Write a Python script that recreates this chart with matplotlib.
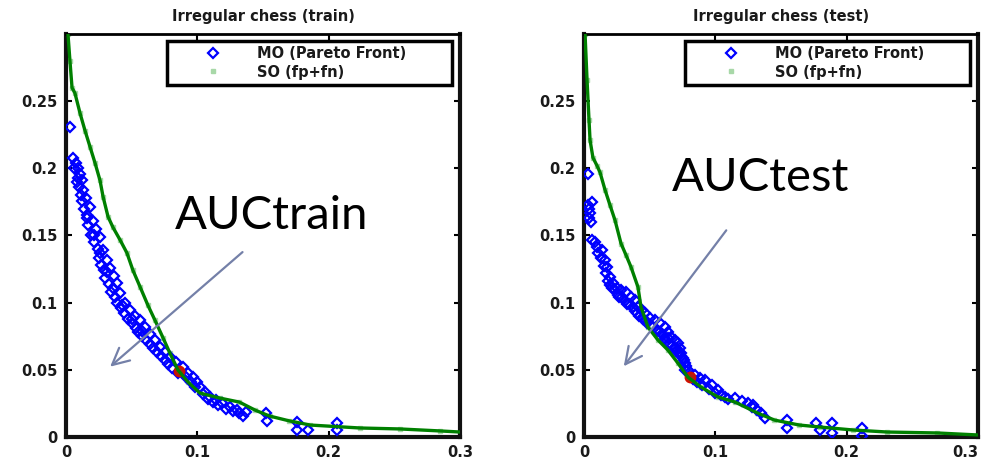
import matplotlib.pyplot as plt

# Pareto front (MO) and single objective sweep (SO), error rates fp vs fn
train_mo_x = [0.003, 0.0053, 0.0076, 0.0091, 0.0107, 0.0122, 0.0129, 0.0152, 0.0183, 0.0205,
              0.0228, 0.0259, 0.0282, 0.0312, 0.0335, 0.0365, 0.0388, 0.041, 0.0449, 0.0487,
              0.0525, 0.0563, 0.0601, 0.0639, 0.0677, 0.0715, 0.0753, 0.0791, 0.0837, 0.089,
              0.0928, 0.0966, 0.0997, 0.102, 0.106, 0.110, 0.114, 0.119, 0.125, 0.130,
              0.132, 0.137, 0.152, 0.153, 0.176, 0.176, 0.184, 0.206, 0.206,
              0.008, 0.0115, 0.016, 0.021, 0.026, 0.031, 0.036, 0.043, 0.050, 0.058,
              0.006, 0.009, 0.010, 0.012, 0.014, 0.016, 0.017, 0.019, 0.021, 0.024,
              0.025, 0.027, 0.029, 0.030, 0.033, 0.034, 0.037, 0.039, 0.042, 0.044,
              0.047, 0.050, 0.053, 0.055, 0.058, 0.061, 0.064, 0.066, 0.069, 0.072,
              0.075, 0.078, 0.081, 0.085, 0.091, 0.095, 0.098, 0.104, 0.108, 0.112,
              0.116, 0.122, 0.127, 0.135]
train_mo_y = [0.231, 0.2075, 0.204, 0.200, 0.196, 0.191, 0.184, 0.178, 0.171, 0.161,
              0.155, 0.149, 0.139, 0.132, 0.126, 0.120, 0.115, 0.107, 0.100, 0.0945,
              0.090, 0.087, 0.082, 0.077, 0.072, 0.067, 0.063, 0.0595, 0.056, 0.052,
              0.048, 0.0446, 0.041, 0.037, 0.0335, 0.030, 0.0275, 0.0253, 0.0223, 0.020,
              0.0179, 0.0186, 0.0179, 0.0119, 0.0112, 0.0052, 0.0052, 0.0104, 0.0052,
              0.190, 0.180, 0.165, 0.150, 0.137, 0.123, 0.111, 0.098, 0.088, 0.079,
              0.200, 0.193, 0.186, 0.176, 0.170, 0.163, 0.158, 0.150, 0.145, 0.140,
              0.133, 0.128, 0.124, 0.118, 0.114, 0.108, 0.104, 0.100, 0.096, 0.092,
              0.088, 0.085, 0.081, 0.078, 0.075, 0.072, 0.069, 0.066, 0.063, 0.060,
              0.057, 0.054, 0.051, 0.048, 0.045, 0.041, 0.037, 0.032, 0.028, 0.026,
              0.024, 0.021, 0.019, 0.016]

train_so_x = [0.0015, 0.003, 0.0046, 0.0068, 0.0107, 0.0145, 0.0183, 0.0221, 0.0259, 0.0282,
              0.032, 0.0358, 0.041, 0.0464, 0.051, 0.0563, 0.0624, 0.0677, 0.0738, 0.0791,
              0.0852, 0.0928, 0.102, 0.117, 0.132, 0.144, 0.155, 0.170, 0.186, 0.224,
              0.254, 0.285, 0.300]
train_so_y = [0.300, 0.280, 0.260, 0.256, 0.241, 0.228, 0.216, 0.204, 0.191, 0.179,
              0.164, 0.156, 0.147, 0.137, 0.124, 0.112, 0.098, 0.087, 0.074, 0.0625,
              0.050, 0.041, 0.0327, 0.029, 0.026, 0.020, 0.0156, 0.012, 0.0089, 0.0067,
              0.006, 0.0045, 0.0037]

test_mo_x = [0.003, 0.003, 0.0046, 0.0038, 0.0061, 0.0099, 0.0137, 0.016, 0.0175, 0.0198,
             0.0221, 0.0251, 0.0282, 0.032, 0.0358, 0.0388, 0.0411, 0.0441, 0.0464, 0.0502,
             0.054, 0.0578, 0.0616, 0.0639, 0.0662, 0.0693, 0.0715, 0.073, 0.0738, 0.0753,
             0.0769, 0.0791, 0.0845, 0.0883, 0.092, 0.0974, 0.102, 0.107, 0.115, 0.125,
             0.129, 0.132, 0.138, 0.1545, 0.1545, 0.177, 0.180, 0.189, 0.189, 0.212, 0.212,
             0.021, 0.027, 0.033, 0.040, 0.047, 0.056, 0.064, 0.070,
             0.004, 0.006, 0.005, 0.008, 0.011, 0.013, 0.015, 0.017, 0.018, 0.020,
             0.023, 0.026, 0.029, 0.031, 0.034, 0.037, 0.039, 0.042, 0.045, 0.048,
             0.052, 0.055, 0.058, 0.060, 0.062, 0.065, 0.067, 0.070, 0.072, 0.074,
             0.076, 0.078, 0.077, 0.083, 0.086, 0.090, 0.095, 0.100, 0.104, 0.110,
             0.120, 0.128, 0.135]
test_mo_y = [0.196, 0.1726, 0.167, 0.163, 0.1466, 0.1414, 0.139, 0.1317, 0.1265, 0.119,
             0.1146, 0.111, 0.1094, 0.108, 0.104, 0.102, 0.0967, 0.0945, 0.092, 0.0885,
             0.087, 0.0848, 0.0818, 0.078, 0.0744, 0.0722, 0.070, 0.0662, 0.0625, 0.0588,
             0.055, 0.0498, 0.046, 0.0439, 0.0424, 0.0387, 0.035, 0.0298, 0.029, 0.0253,
             0.0238, 0.020, 0.0141, 0.0126, 0.0067, 0.0104, 0.0052, 0.0104, 0.003, 0.0067, 0.0007,
             0.111, 0.104, 0.099, 0.092, 0.086, 0.079, 0.074, 0.064,
             0.170, 0.175, 0.160, 0.145, 0.137, 0.133, 0.127, 0.122, 0.116, 0.113,
             0.110, 0.106, 0.104, 0.101, 0.099, 0.097, 0.094, 0.090, 0.088, 0.085,
             0.083, 0.080, 0.078, 0.076, 0.073, 0.070, 0.068, 0.066, 0.063, 0.060,
             0.057, 0.053, 0.050, 0.043, 0.041, 0.039, 0.036, 0.033, 0.031, 0.028,
             0.027, 0.022, 0.018]

test_so_x = [0.0008, 0.0023, 0.0038, 0.0046, 0.0068, 0.0099, 0.0122, 0.016, 0.0198, 0.0236,
             0.0282, 0.032, 0.0358, 0.0411, 0.0434, 0.0487, 0.0563, 0.0639, 0.0715, 0.0791,
             0.089, 0.102, 0.115, 0.132, 0.145, 0.164, 0.180, 0.205, 0.231, 0.269, 0.300]
test_so_y = [0.300, 0.266, 0.236, 0.221, 0.208, 0.202, 0.197, 0.184, 0.1726, 0.1614,
             0.144, 0.1354, 0.1265, 0.1116, 0.0967, 0.0818, 0.0722, 0.0647, 0.055, 0.0446,
             0.0372, 0.0298, 0.026, 0.0179, 0.0126, 0.0089, 0.0074, 0.0052, 0.0037, 0.003, 0.0015]

# chosen operating point on each curve
train_pick = (0.086, 0.049)
test_pick = (0.081, 0.045)

xticks = [0, 0.1, 0.2, 0.3]
xtick_labels = ["0", "0.1", "0.2", "0.3"]
yticks = [0, 0.05, 0.1, 0.15, 0.2, 0.25]
ytick_labels = ["0", "0.05", "0.1", "0.15", "0.2", "0.25"]

panels = [
    ("Irregular chess (train)", train_mo_x, train_mo_y, train_so_x, train_so_y, train_pick,
     "AUCtrain", (0.083, 0.155), (0.136, 0.139), (0.032, 0.051)),
    ("Irregular chess (test)", test_mo_x, test_mo_y, test_so_x, test_so_y, test_pick,
     "AUCtest", (0.067, 0.183), (0.1096, 0.1555), (0.029, 0.051)),
]

small_font = dict(family="DejaVu Sans", weight="bold", size=10.5, color="#1a1a1a")

fig = plt.figure(figsize=(9.82, 4.62), dpi=100)
ax_left = [66 / 982, 584 / 982]

for i, (title, mo_x, mo_y, so_x, so_y, pick, auc_txt, auc_pos, arr_start, arr_end) in enumerate(panels):
    ax = fig.add_axes([ax_left[i], 25 / 462, 394 / 982, 403 / 462])

    ax.plot(mo_x, mo_y, linestyle="none", marker="D", markersize=5.5, markerfacecolor="none",
            markeredgecolor="#0000ff", markeredgewidth=1.6, label="MO (Pareto Front)", zorder=3)
    ax.plot(so_x, so_y, linestyle="none", marker="s", markersize=2.5, color="#a8d8a8",
            label="SO (fp+fn)", zorder=1)
    ax.plot(pick[0], pick[1], linestyle="none", marker="o", markersize=7, markerfacecolor="#b02010",
            markeredgecolor="#d01000", markeredgewidth=1.5, zorder=4)
    ax.plot(so_x, so_y, color="#008000", linewidth=2.4, zorder=5)

    ax.set_xlim(0, 0.3)
    ax.set_ylim(0, 0.3)
    ax.set_xticks(xticks)
    ax.set_xticklabels(xtick_labels, fontdict=small_font)
    ax.set_yticks(yticks)
    ax.set_yticklabels(ytick_labels, fontdict=small_font)
    ax.tick_params(direction="in", top=True, right=True, length=4, width=1.5, pad=6)
    if i == 1:
        # last label sits at the figure edge, keep it inside
        ax.get_xticklabels()[-1].set_horizontalalignment("right")

    for side in ["left", "bottom", "right"]:
        ax.spines[side].set_linewidth(3)
        ax.spines[side].set_color("#111111")
    ax.spines["top"].set_linewidth(2)

    ax.set_title(title, pad=9, **small_font)

    leg = ax.legend(loc="upper left", bbox_to_anchor=(0.256, 0.864, 0.724, 0.119), mode="expand",
                    prop=dict(family="DejaVu Sans", weight="bold", size=10.5),
                    handlelength=5.6, handletextpad=0.2, borderpad=0.35, labelspacing=0.25,
                    fancybox=False, framealpha=1, borderaxespad=0)
    leg.get_frame().set_edgecolor("black")
    leg.get_frame().set_linewidth(2.5)
    for t in leg.get_texts():
        t.set_color("#1a1a1a")

    ax.text(auc_pos[0], auc_pos[1], auc_txt, family="Lato", fontsize=34, ha="left",
            va="baseline", color="black", zorder=6)
    ax.annotate("", xy=arr_end, xytext=arr_start,
                arrowprops=dict(arrowstyle="->", color="#7480a8", lw=1.6,
                                mutation_scale=30), zorder=6)

plt.savefig("out.png", dpi=100)
